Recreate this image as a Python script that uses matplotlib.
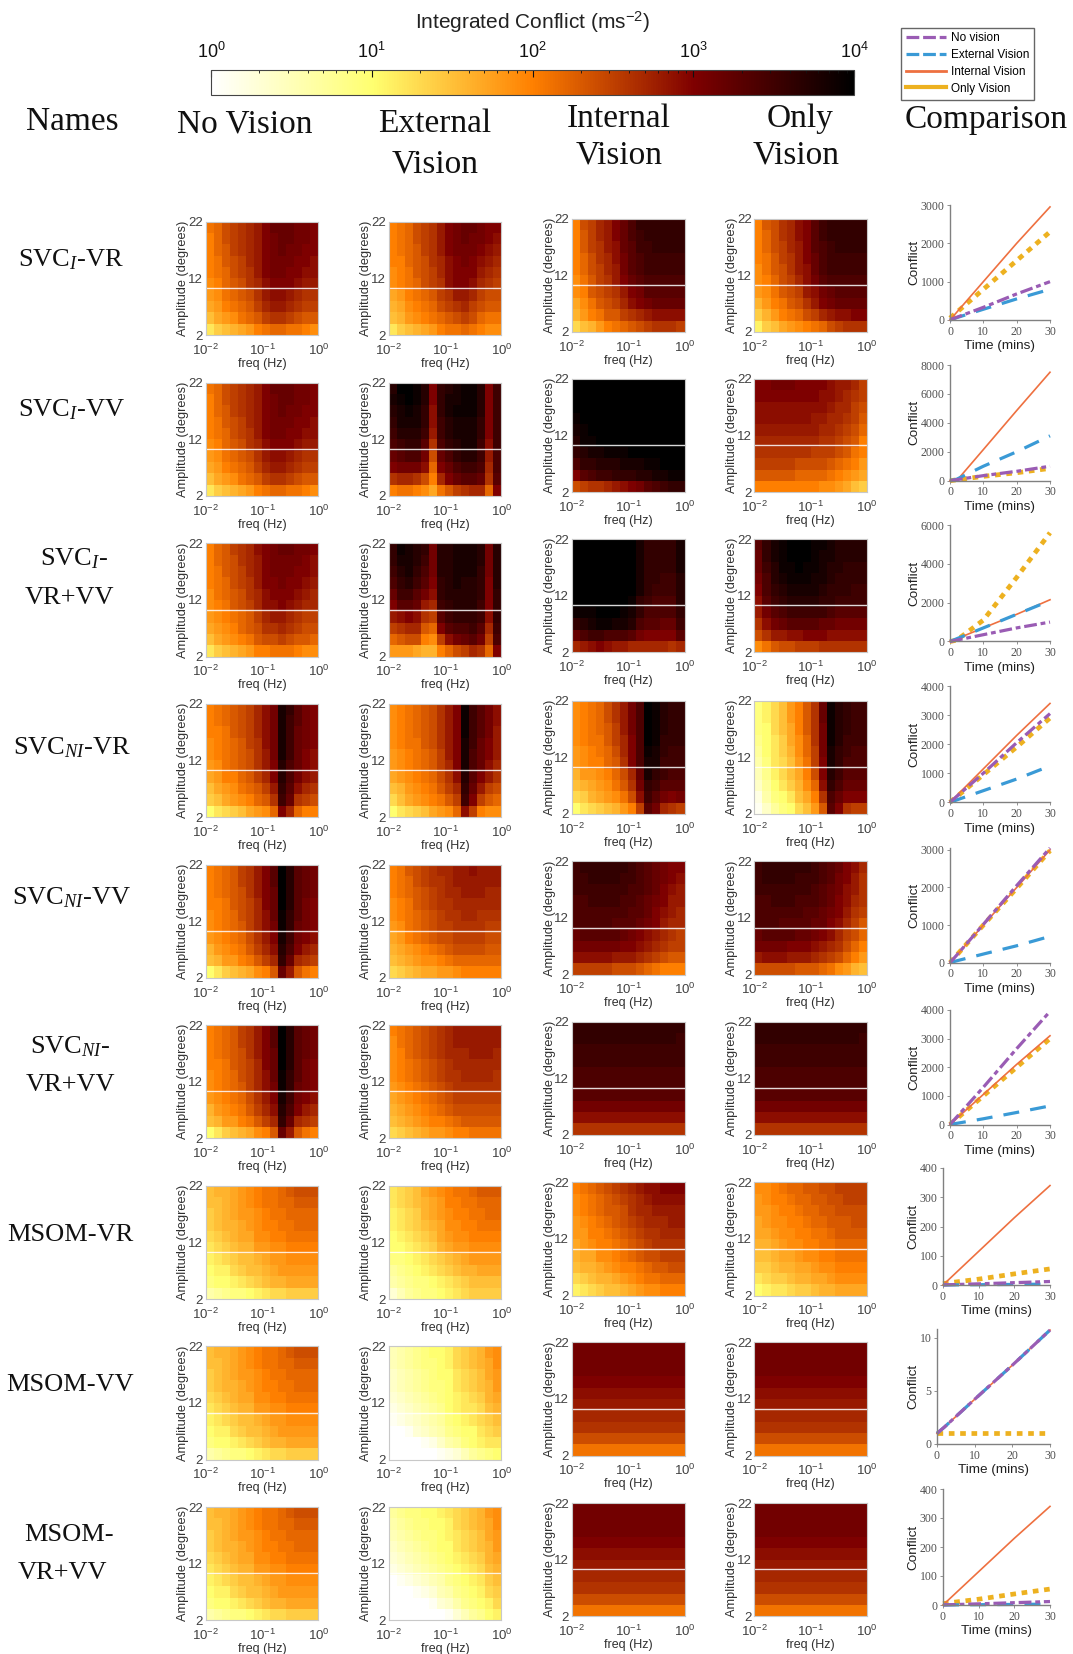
"""Integrated conflict heatmaps for 9 models x 4 vision conditions, with comparison curves."""
import numpy as np
import matplotlib
matplotlib.use("Agg")
import matplotlib.pyplot as plt
from matplotlib.colors import LinearSegmentedColormap, LogNorm
from matplotlib.cm import ScalarMappable
from matplotlib.lines import Line2D

W, H = 1073, 1654

plt.rcParams.update({
    "font.family": ["Liberation Sans", "DejaVu Sans"],
    "mathtext.fontset": "custom",
    "mathtext.rm": "Liberation Serif",
    "mathtext.it": "Liberation Serif:italic",
    "mathtext.bf": "Liberation Serif:bold",
    "axes.unicode_minus": False,
})

# heatmap cells: 10*log10(conflict), top row is 22 degrees, left column is 0.01 Hz
S1_VR_NV = [
    [21,22,24,25,26,27,28,30,32,32,32,31,31,30],
    [20,22,24,25,26,27,28,30,31,32,32,31,31,30],
    [20,22,23,25,26,27,28,30,31,32,31,31,30,30],
    [20,21,23,24,25,27,28,30,31,31,31,30,30,29],
    [20,21,22,24,25,26,28,30,31,31,30,30,29,29],
    [19,20,22,23,24,26,27,29,30,30,30,29,28,28],
    [18,19,21,22,23,24,26,28,29,29,28,27,26,26],
    [17,18,20,21,22,23,25,27,28,28,27,26,25,25],
    [15,17,18,19,21,22,23,25,26,26,25,24,23,23],
    [12,14,15,16,17,18,20,21,22,22,21,21,20,19]]
S1_VR_EV = [
    [20,21,22,24,25,26,28,30,31,32,32,31,30,30],
    [20,21,22,24,25,26,28,30,31,32,31,31,30,29],
    [20,21,22,23,25,26,28,30,31,31,31,30,29,28],
    [20,20,22,23,24,26,27,29,30,31,30,29,28,27],
    [19,20,21,23,24,25,27,29,30,30,30,28,27,26],
    [19,20,21,22,24,25,26,29,30,30,29,27,26,25],
    [17,18,20,21,22,23,25,26,28,28,27,25,24,24],
    [16,17,19,20,21,22,24,25,26,27,25,24,23,23],
    [15,16,18,19,20,21,22,23,24,25,24,22,21,21],
    [12,14,15,16,17,18,20,21,21,22,21,20,19,19]]
S1_VR_IV = [
    [20,24,25,27,28,30,32,34,36,36,36,36,36,36],
    [20,23,25,27,28,30,32,34,35,36,36,36,36,36],
    [20,23,25,26,28,29,32,33,35,35,36,36,36,36],
    [20,22,24,26,27,29,31,33,34,35,35,35,35,35],
    [20,22,24,25,27,28,31,33,34,35,35,35,35,35],
    [19,21,23,25,26,28,30,32,33,34,34,34,34,34],
    [19,20,23,24,25,26,28,30,31,33,33,33,33,33],
    [17,19,21,23,24,25,27,29,30,31,32,32,32,32],
    [16,18,20,21,23,23,25,26,27,28,29,29,29,29],
    [13,15,16,18,20,21,22,23,24,25,26,26,26,25]]
S1_VR_OV = [
    [20,23,24,26,27,29,30,33,35,36,36,36,36,36],
    [20,22,24,26,27,29,30,33,35,36,36,36,36,36],
    [20,22,24,25,27,28,30,33,34,35,36,36,36,36],
    [20,21,23,25,26,28,30,32,34,35,35,35,35,35],
    [19,21,23,24,26,28,29,32,34,35,35,35,35,35],
    [19,20,22,24,25,27,29,31,33,34,34,34,34,34],
    [18,19,21,23,24,25,28,29,31,32,33,33,33,33],
    [16,18,20,21,23,24,26,28,30,31,32,32,32,32],
    [14,16,18,20,21,22,24,25,27,28,29,29,30,30],
    [11,14,15,17,18,19,20,21,22,24,25,26,26,26]]
S1_VV_EV = [
    [37,40,40,39,37,30,36,37,38,39,39,37,30,35],
    [38,39,40,39,37,30,36,38,38,39,39,37,30,35],
    [37,38,39,38,36,29,36,38,39,39,39,37,30,35],
    [36,38,38,38,36,29,35,37,38,38,38,36,30,35],
    [35,37,37,37,35,28,35,37,38,38,38,36,30,35],
    [34,35,36,36,33,26,34,36,37,38,38,35,29,35],
    [32,33,34,34,31,24,32,34,36,37,37,35,28,34],
    [30,31,31,31,29,22,30,32,34,35,35,34,27,34],
    [26,27,27,26,24,20,27,30,32,33,33,32,26,33],
    [20,21,21,20,19,17,21,23,25,26,27,27,22,30]]
S1_VV_IV = [
    [40,40,40,40,40,40,40,40,40,40,40,40,40,40],
    [40,40,40,40,40,40,40,40,40,40,40,40,40,40],
    [40,40,40,40,40,40,40,40,40,40,40,40,40,40],
    [39,40,40,40,40,40,40,40,40,40,40,40,40,40],
    [38,39,40,40,40,40,40,40,40,40,40,40,40,40],
    [37,39,39,40,40,40,40,40,40,40,40,40,40,40],
    [36,37,38,38,39,39,39,40,40,40,40,40,40,40],
    [34,36,36,37,37,37,38,38,38,39,39,40,40,40],
    [30,33,34,35,35,36,36,36,37,37,38,38,39,39],
    [24,25,26,26,27,28,29,30,31,33,34,35,36,36]]
S1_VV_OV = [
    [30,30,31,31,31,30,30,30,30,29,28,28,27,25],
    [30,30,30,30,30,30,30,30,29,29,28,27,26,25],
    [29,29,29,29,29,29,29,29,29,28,27,27,25,24],
    [29,29,29,29,29,29,29,28,28,27,27,26,25,23],
    [28,28,28,28,28,28,28,28,27,27,26,25,24,22],
    [27,27,27,27,27,27,27,27,26,26,25,24,23,20],
    [26,26,26,26,26,26,26,25,25,25,24,23,21,20],
    [25,25,25,25,25,24,24,24,24,23,22,21,20,18],
    [23,23,23,23,23,22,22,22,22,21,20,19,18,17],
    [20,20,20,20,20,20,20,20,19,19,18,17,15,14]]
S1_VB_NV = [
    [20,22,23,25,26,27,29,30,31,32,32,31,31,30],
    [20,22,23,24,26,27,28,30,31,31,31,31,30,29],
    [20,21,23,24,25,27,28,30,31,31,31,30,30,29],
    [20,21,22,24,25,26,28,30,30,31,30,30,29,28],
    [19,21,22,23,24,26,27,29,30,30,30,29,28,27],
    [19,20,21,23,24,25,27,29,29,30,29,28,27,27],
    [18,19,20,21,22,23,25,27,28,28,27,26,25,25],
    [17,18,19,20,22,23,24,26,26,27,26,25,24,24],
    [15,17,18,19,20,21,23,24,24,25,24,23,23,22],
    [12,14,15,16,17,18,20,20,21,21,21,20,19,19]]
S1_VB_EV = [
    [36,39,38,37,36,31,37,37,38,38,38,37,31,37],
    [36,38,38,37,35,31,37,37,38,38,38,37,31,37],
    [35,37,38,36,34,31,37,37,38,38,38,36,31,37],
    [34,36,37,35,33,30,36,37,38,37,37,36,30,37],
    [32,35,35,33,31,29,36,37,37,37,37,36,30,36],
    [30,33,33,32,28,27,35,36,37,37,37,35,30,36],
    [28,29,30,29,26,25,33,35,36,36,36,35,29,36],
    [25,26,27,27,23,22,30,33,34,34,35,33,27,35],
    [22,23,24,24,20,19,25,29,31,32,33,31,25,34],
    [18,18,18,17,16,16,20,22,24,25,27,26,22,30]]
S1_VB_IV = [
    [40,40,40,40,40,40,40,40,38,36,36,36,36,38],
    [40,40,40,40,40,40,40,40,38,36,36,36,36,38],
    [40,40,40,40,40,40,40,40,38,36,36,36,36,38],
    [40,40,40,40,40,40,40,40,38,36,36,35,35,37],
    [40,40,40,40,40,40,40,40,38,36,35,35,35,37],
    [40,40,40,40,40,40,40,39,36,35,34,34,34,37],
    [39,39,39,40,40,40,39,38,36,34,34,34,34,36],
    [36,37,38,39,39,38,38,37,34,33,33,32,32,35],
    [32,34,35,35,34,34,34,33,31,30,30,30,30,33],
    [27,28,29,30,29,28,28,27,27,27,27,27,26,27]]
S1_VB_OV = [
    [33,36,38,39,40,40,40,39,39,38,37,37,37,37],
    [32,36,38,39,40,40,40,39,38,38,37,37,37,37],
    [32,35,37,39,39,40,39,39,38,37,37,36,36,36],
    [31,34,37,38,39,39,39,38,38,37,36,36,36,36],
    [30,34,36,37,38,38,38,38,37,36,36,36,35,35],
    [29,33,35,36,37,37,37,37,36,36,35,35,35,35],
    [28,31,33,34,35,35,35,35,35,34,33,33,33,33],
    [26,29,31,32,33,33,33,33,32,32,31,31,31,31],
    [24,26,28,28,29,29,30,30,30,29,29,29,29,29],
    [19,21,23,24,24,25,25,25,26,26,26,26,26,26]]
S2_VR_NV = [
    [20,21,22,23,24,25,27,29,31,38,36,33,31,30],
    [20,21,22,23,24,25,27,29,31,38,35,33,31,30],
    [20,20,21,23,24,25,27,29,31,38,35,32,31,30],
    [19,20,21,22,23,25,26,29,31,38,35,32,31,30],
    [19,20,21,22,23,24,26,28,31,38,35,32,30,29],
    [18,19,21,22,23,24,26,28,30,37,34,32,30,29],
    [17,18,20,20,22,23,25,27,30,37,34,31,29,28],
    [15,17,18,19,21,22,23,25,28,36,33,29,27,26],
    [14,15,17,18,19,20,22,23,26,35,32,26,25,24],
    [10,12,13,14,15,17,18,19,22,30,27,22,20,20]]
S2_VR_EV = [
    [19,20,21,22,23,24,26,28,30,39,35,33,31,29],
    [19,20,21,22,23,24,26,28,30,39,35,33,31,29],
    [19,20,21,22,23,24,26,28,30,39,35,33,31,28],
    [19,20,21,21,23,24,26,28,30,38,35,32,30,28],
    [18,19,20,21,22,23,25,28,30,38,34,32,30,28],
    [18,19,20,21,22,23,25,27,30,38,34,32,29,27],
    [17,18,19,20,21,22,24,26,29,37,33,30,28,26],
    [15,16,18,19,20,21,23,25,27,36,32,28,25,24],
    [13,15,17,18,19,20,21,23,25,35,30,25,23,22],
    [10,12,13,14,15,17,18,19,22,29,25,20,19,19]]
S2_VR_IV = [
    [19,20,21,22,24,26,28,31,34,40,39,37,36,36],
    [19,20,21,22,24,26,28,31,34,40,39,37,36,36],
    [19,20,21,22,23,25,28,31,34,40,39,37,36,36],
    [19,20,21,21,23,25,27,30,34,40,39,36,36,36],
    [18,19,20,21,22,24,27,30,34,39,38,36,35,35],
    [18,19,20,20,22,23,26,30,34,38,38,35,35,35],
    [16,18,18,19,20,22,24,27,32,38,36,35,34,34],
    [15,16,17,18,19,21,23,26,31,36,35,33,33,33],
    [13,14,16,17,18,19,21,24,29,35,33,31,30,31],
    [10,12,13,14,15,16,18,20,25,33,31,27,26,25]]
S2_VR_OV = [
    [9,11,13,15,18,20,23,26,32,39,37,36,35,35],
    [9,11,13,15,18,20,23,26,32,39,37,36,35,35],
    [9,10,13,15,17,20,23,26,31,39,37,36,35,35],
    [8,10,12,14,17,19,22,26,31,39,37,35,35,35],
    [7,10,12,14,16,19,22,25,31,38,36,35,34,34],
    [6,9,12,13,15,18,21,25,30,38,36,34,34,34],
    [5,8,11,13,15,17,20,24,30,37,35,33,33,33],
    [4,7,10,12,14,16,19,22,29,36,34,32,32,32],
    [2,6,9,10,12,15,17,20,26,34,32,30,30,30],
    [1,4,7,9,10,13,15,18,23,33,30,26,25,25]]
S2_VV_NV = [
    [20,21,22,23,25,26,28,30,33,40,37,33,32,31],
    [20,21,22,23,25,26,28,30,33,40,37,33,32,31],
    [20,21,22,23,24,26,28,30,32,40,37,33,32,31],
    [20,20,21,23,24,25,27,30,32,40,37,33,31,30],
    [19,20,21,22,24,25,27,29,32,39,36,33,31,30],
    [19,20,21,22,23,25,27,29,31,39,36,32,31,30],
    [18,19,20,21,22,24,26,28,30,38,35,31,30,29],
    [16,18,19,20,21,23,25,27,29,37,34,30,28,27],
    [15,16,18,18,20,21,23,25,27,36,32,27,26,25],
    [10,12,14,15,16,17,19,20,23,32,28,23,21,20]]
S2_VV_EV = [
    [20,21,23,24,25,26,27,27,28,28,29,28,28,28],
    [20,21,22,24,25,26,26,27,28,28,28,28,28,28],
    [20,21,22,23,24,25,26,27,27,28,28,28,27,27],
    [19,20,21,23,24,25,26,26,27,27,27,27,27,27],
    [19,20,21,22,23,24,25,26,26,27,27,26,26,26],
    [18,19,21,22,23,24,25,25,26,26,26,26,25,25],
    [17,18,20,21,22,23,24,24,25,25,25,25,24,24],
    [16,17,18,19,20,21,22,23,24,24,24,24,23,23],
    [15,16,17,18,19,19,20,21,22,22,22,22,22,22],
    [13,14,15,16,17,17,18,18,19,20,20,20,20,20]]
S2_VV_IV = [
    [35,36,36,36,36,36,36,35,34,33,32,31,30,30],
    [35,35,36,36,36,36,35,35,34,33,32,31,30,29],
    [35,35,35,35,35,35,35,34,34,33,32,30,29,28],
    [34,34,35,35,35,35,34,34,33,32,31,30,28,28],
    [34,34,34,34,34,34,34,33,33,32,30,29,28,27],
    [34,34,34,34,34,33,33,33,32,31,30,28,27,27],
    [32,33,33,33,33,33,32,31,30,29,28,27,26,25],
    [31,31,31,31,31,31,30,30,29,28,27,26,25,25],
    [29,29,29,29,29,28,28,28,27,26,25,24,23,23],
    [25,25,25,25,25,24,24,24,23,22,21,20,20,20]]
S2_VV_OV = [
    [35,36,36,36,36,36,36,35,34,33,32,30,29,27],
    [35,36,36,36,36,35,35,35,34,33,31,30,28,26],
    [35,35,35,35,35,35,35,34,33,32,31,29,28,26],
    [34,34,35,35,35,34,34,34,33,32,30,29,27,26],
    [34,34,34,34,34,34,33,33,32,31,30,28,26,25],
    [34,34,34,33,33,33,33,32,32,30,29,27,25,23],
    [32,33,33,33,33,32,32,31,30,29,27,25,24,22],
    [31,31,31,31,30,30,30,29,28,27,26,24,22,20],
    [28,29,29,29,28,28,28,27,26,25,24,22,20,18],
    [24,24,24,24,24,23,23,23,22,21,19,18,16,15]]
S2_VB_EV = [
    [20,21,22,23,24,25,26,27,28,28,28,28,28,28],
    [19,21,22,23,24,25,26,27,28,28,28,28,28,28],
    [19,20,22,23,24,25,26,27,27,27,28,28,28,27],
    [19,20,21,22,23,24,25,26,27,27,27,27,27,27],
    [19,20,21,22,23,24,25,26,26,27,27,27,27,26],
    [18,19,20,21,22,23,24,25,26,26,26,26,26,26],
    [17,18,19,20,21,22,23,24,25,25,25,25,25,25],
    [16,17,18,19,20,21,22,23,24,24,24,24,24,24],
    [15,16,17,18,19,20,20,21,22,23,23,23,23,23],
    [13,14,15,16,17,18,18,19,20,20,21,21,21,21]]
S2_VB_IV = [
    [36,36,36,36,36,36,36,36,36,36,36,36,36,36],
    [36,36,36,36,36,36,36,36,36,36,36,36,36,35],
    [35,35,35,35,35,35,35,35,35,35,35,35,35,35],
    [35,35,35,35,35,35,35,35,35,35,35,35,35,35],
    [34,34,34,34,34,34,34,34,34,34,34,34,34,34],
    [34,34,34,34,34,34,34,34,34,34,34,34,34,34],
    [33,33,33,33,33,33,33,33,33,33,33,33,33,33],
    [31,31,31,31,31,31,31,31,31,31,31,31,31,31],
    [29,29,29,29,29,29,29,29,29,29,29,29,29,29],
    [26,26,26,26,26,26,26,26,26,26,26,26,26,26]]
S3_VR_NV = [
    [15,16,16,17,18,19,20,21,21,22,23,24,24,24],
    [15,15,16,17,18,19,20,21,21,22,22,23,23,23],
    [14,15,16,17,18,18,19,20,21,21,22,22,22,22],
    [14,15,16,16,17,18,19,20,20,21,21,22,22,22],
    [13,14,15,16,17,17,19,19,20,20,21,21,21,21],
    [12,13,14,15,16,16,18,18,19,19,20,20,20,20],
    [11,12,13,14,15,15,16,17,18,18,19,19,19,19],
    [10,11,11,13,14,15,15,16,17,18,18,18,18,18],
    [9,10,10,11,12,13,14,15,16,16,17,17,17,17],
    [6,7,8,9,9,10,11,12,13,13,14,14,14,14]]
S3_VR_EV = [
    [12,13,14,15,17,18,19,20,21,21,22,23,23,23],
    [12,13,14,15,16,17,18,20,20,21,21,22,22,22],
    [11,12,13,14,16,17,18,19,20,20,21,21,22,22],
    [11,12,13,14,15,16,17,19,19,20,20,21,21,21],
    [10,11,12,13,14,15,17,18,19,19,20,20,20,20],
    [10,10,11,12,13,14,16,17,18,18,19,19,19,19],
    [9,9,10,11,12,13,14,15,16,17,18,18,18,18],
    [7,8,9,10,11,12,13,14,15,16,16,17,17,17],
    [6,7,8,9,9,10,11,12,13,14,15,15,15,15],
    [3,5,7,8,9,9,10,11,12,13,14,14,14,14]]
S3_VR_IV = [
    [20,21,22,23,24,25,26,27,28,29,29,30,30,30],
    [19,20,21,22,23,24,25,26,27,28,29,29,29,29],
    [19,20,21,22,23,23,24,26,27,27,28,28,28,28],
    [18,19,20,21,22,23,24,25,26,27,27,27,28,28],
    [18,18,20,20,21,22,23,24,25,26,26,27,27,27],
    [17,18,19,20,20,21,22,23,24,25,26,26,26,26],
    [16,17,17,19,19,20,21,22,23,24,24,25,25,25],
    [15,16,16,17,18,19,20,20,21,22,23,23,24,24],
    [13,14,15,16,16,17,18,19,20,21,21,22,22,22],
    [11,12,13,14,15,15,16,17,18,19,19,20,20,20]]
S3_VR_OV = [
    [19,19,20,21,22,22,23,23,24,24,25,25,25,25],
    [18,19,20,20,21,22,22,23,23,24,24,25,25,25],
    [18,18,19,20,20,21,22,22,23,23,24,24,24,24],
    [17,18,19,19,20,20,21,22,22,23,23,23,24,24],
    [17,17,18,19,19,20,20,21,21,22,23,23,23,23],
    [16,16,17,18,19,19,20,20,21,21,22,22,22,22],
    [15,15,16,17,17,18,19,19,20,20,21,21,21,21],
    [14,14,15,16,16,17,17,18,19,19,20,20,20,20],
    [12,13,14,14,15,16,16,17,17,18,19,19,19,19],
    [10,11,12,12,13,14,14,15,16,16,17,17,17,17]]
S3_VV_EV = [
    [5,6,7,8,9,10,10,11,13,14,15,16,18,19],
    [5,6,7,8,9,9,10,11,13,14,15,16,17,19],
    [4,5,6,7,8,9,10,10,12,13,14,15,17,18],
    [4,5,6,7,8,9,9,10,12,13,14,15,16,18],
    [3,4,5,6,7,8,9,10,11,12,13,14,16,17],
    [2,3,4,5,6,7,8,10,11,12,12,13,15,16],
    [1,2,3,4,5,6,7,9,10,11,12,13,14,15],
    [0,0,1,3,4,5,6,8,9,10,10,12,13,14],
    [0,0,0,0,1,2,4,6,7,9,10,11,12,12],
    [0,0,0,0,0,0,1,2,3,5,7,8,9,10]]
S3_VV_IV = [
    [31,31,31,31,31,31,31,31,31,31,31,31,31,31],
    [31,31,31,31,31,31,31,31,31,31,31,31,31,31],
    [31,31,31,31,31,31,31,31,31,31,31,31,31,31],
    [30,30,30,30,30,30,30,30,30,30,30,30,30,30],
    [29,29,29,29,29,29,29,29,29,29,29,29,29,29],
    [28,28,28,28,28,28,28,28,28,28,28,28,28,28],
    [27,27,27,27,27,27,27,27,27,27,27,27,27,27],
    [26,26,26,26,26,26,26,26,26,26,26,26,26,26],
    [24,24,24,24,24,24,24,24,24,24,24,24,24,24],
    [21,21,21,21,21,21,21,21,21,21,21,21,21,21]]
S3_VB_EV = [
    [7,8,9,9,10,10,11,12,13,14,15,16,18,19],
    [6,7,8,9,9,10,10,11,13,14,15,16,17,19],
    [5,6,7,8,9,9,10,11,12,13,14,15,17,18],
    [4,5,6,7,8,9,10,10,12,13,14,15,16,18],
    [3,4,5,6,7,8,9,10,11,12,13,14,16,17],
    [2,3,4,5,6,7,8,9,10,11,12,13,15,16],
    [0,1,2,3,4,5,6,8,9,10,11,12,14,15],
    [0,0,0,1,2,3,5,6,8,9,10,11,13,14],
    [0,0,0,0,0,1,3,4,6,8,9,10,11,13],
    [0,0,0,0,0,0,0,1,3,5,7,8,10,11]]

ROW_NV = [S1_VR_NV, S1_VR_NV, S1_VB_NV, S2_VR_NV, S2_VV_NV, S2_VV_NV, S3_VR_NV, S3_VR_NV, S3_VR_NV]
ROW_EV = [S1_VR_EV, S1_VV_EV, S1_VB_EV, S2_VR_EV, S2_VV_EV, S2_VB_EV, S3_VR_EV, S3_VV_EV, S3_VB_EV]
ROW_IV = [S1_VR_IV, S1_VV_IV, S1_VB_IV, S2_VR_IV, S2_VV_IV, S2_VB_IV, S3_VR_IV, S3_VV_IV, S3_VV_IV]
ROW_OV = [S1_VR_OV, S1_VV_OV, S1_VB_OV, S2_VR_OV, S2_VV_OV, S2_VB_IV, S3_VR_OV, S3_VV_IV, S3_VV_IV]

# comparison curves, read at these times (mins)
TIME = [0, 2, 10, 20, 30]
CMP_NV = [[0,70,330,680,1000], [0,70,350,650,1000], [0,70,350,700,1000], [0,200,1000,2050,3050],
          [0,200,1020,2050,3050], [0,260,1300,2650,3950], [0,1,4,8,12], [1,1.6,4.2,7.4,10.7], [0,1,4,8,12]]
CMP_EV = [[0,60,280,550,800], [0,100,1000,2000,3100], [0,140,700,1400,2100], [0,80,400,800,1250],
          [0,50,230,450,700], [0,40,200,420,650], [0,0.3,1,2,3], [1,1.6,4.2,7.4,10.7], [0,0.3,1,2,3]]
CMP_IV = [[0,200,1000,2000,2950], [0,0,2150,4850,7500], [0,140,700,1400,2150], [0,230,1150,2300,3400],
          [0,200,1000,2000,3000], [0,210,1050,2100,3100], [0,23,115,230,340], [1,1.6,4.2,7.4,10.7], [0,23,115,230,340]]
CMP_OV = [[50,200,800,1550,2300], [0,60,300,550,850], [0,70,1100,3300,5600], [0,190,950,1900,2900],
          [0,200,1000,1980,2980], [0,200,1000,2000,3000], [5,8,20,38,55], [1,1,1,1,1], [5,8,20,38,55]]
CMP_YMAX = [3000, 8000, 6000, 4000, 3050, 4000, 400, 10.8, 400]
CMP_YTICKS = [[0,1000,2000,3000], [0,2000,4000,6000,8000], [0,2000,4000,6000], [0,1000,2000,3000,4000],
              [0,1000,2000,3000], [0,1000,2000,3000,4000], [0,100,200,300,400], [0,5,10], [0,100,200,300,400]]
TIME_TICKS = [0, 10, 20, 30]

COLS = ["#9A5CB4", "#3A9AD6", "#EE7040", "#EDB120"]
CMAP = LinearSegmentedColormap.from_list("conflict", [
    (0.0, "#ffffff"), (0.25, "#ffff70"), (0.5, "#ff8000"), (0.75, "#800000"), (1.0, "#000000")])
NORM = LogNorm(1, 1e4)

# pixel layout
COL_X = [205.7, 388.7, 571.8, 754.4]
ROW_Y_A = [221.7, 382.7, 543.3, 703.7, 864.5, 1025, 1185.7, 1346.3, 1507]   # columns 0,1
ROW_Y_B = [218.7, 379, 539, 700.7, 861.3, 1021.5, 1182.3, 1342.3, 1503]     # columns 2,3
CELL_W, CELL_H = 112.7, 113.3
CMP_LEFT = [950, 950, 950, 950, 950, 950, 943, 937, 943]
CMP_TOP = [205, 365, 525, 686, 848, 1010, 1168, 1329, 1489]
CMP_BOT = [320, 480.7, 641.5, 802.3, 962.7, 1124.5, 1285, 1444, 1605]


def px_axes(fig, x0, y0, x1, y1):
    return fig.add_axes([x0 / W, 1 - y1 / H, (x1 - x0) / W, (y1 - y0) / H])


def heat(fig, x, y, vals):
    ax = px_axes(fig, x, y, x + CELL_W, y + CELL_H)
    z = 10 ** (np.array(vals, dtype=float)[::-1] / 10)
    xe = np.logspace(-2, 0, z.shape[1] + 1)
    ye = np.linspace(2, 22, z.shape[0] + 1)
    ax.pcolormesh(xe, ye, z, cmap=CMAP, norm=NORM, linewidth=0, rasterized=True)
    ax.set_xscale("log")
    ax.set_xlim(1e-2, 1)
    ax.set_ylim(2, 22)
    ax.axhline(10.3, color="white", lw=1.0, alpha=0.85)
    ax.set_xticks([1e-2, 1e-1, 1])
    ax.minorticks_off()
    ax.set_yticks([2, 12, 22])
    ax.tick_params(axis="x", length=0, labelsize=9.5, colors="#404040", pad=5.5)
    ax.tick_params(axis="y", length=0, labelsize=9.5, colors="#404040", pad=2)
    ax.set_xlabel("freq (Hz)", fontsize=9, color="#303030", labelpad=0)
    ax.set_ylabel("Amplitude (degrees)", fontsize=9.2, color="#303030", labelpad=-1)
    for s in ax.spines.values():
        s.set_color("#c8c8c8")
        s.set_linewidth(0.8)


def compare(fig, i):
    ax = px_axes(fig, CMP_LEFT[i], CMP_TOP[i], 1050, CMP_BOT[i])
    ax.plot(TIME, CMP_OV[i], color=COLS[3], lw=3.4, dashes=(1.2, 1.2))
    ax.plot(TIME, CMP_IV[i], color=COLS[2], lw=1.2)
    ax.plot(TIME, CMP_EV[i], color=COLS[1], lw=2.3, dashes=(5, 3.5))
    ax.plot(TIME, CMP_NV[i], color=COLS[0], lw=2.3, dashes=(4, 1.2, 1.5, 1.2))
    ax.set_xlim(0, 30)
    ax.set_ylim(0, CMP_YMAX[i])
    ax.set_xticks(TIME_TICKS)
    ax.set_yticks(CMP_YTICKS[i])
    ax.tick_params(length=2, width=0.6, color="#808080", labelsize=8.5, labelcolor="#505050", pad=2)
    for lab in ax.get_xticklabels() + ax.get_yticklabels():
        lab.set_family("Liberation Serif")
    ax.set_xlabel("Time (mins)", fontsize=9.7, color="#202020", labelpad=2)
    ax.set_ylabel("Conflict", fontsize=9.7, color="#202020", labelpad=0)
    ax.spines[["top", "right"]].set_visible(False)
    ax.spines[["left", "bottom"]].set_color("#808080")
    ax.spines[["left", "bottom"]].set_linewidth(1.0)
    for line in ax.get_lines():
        line.set_clip_on(False)


def label(fig, x, y, s, size=24):
    fig.text(x / W, 1 - y / H, s, ha="center", va="center", fontsize=size,
             family="Liberation Serif", color="#111111")


def main():
    fig = plt.figure(figsize=(W / 100, H / 100), dpi=100, facecolor="white")

    # colour bar
    cax = px_axes(fig, 211, 70, 854, 94.5)
    cb = fig.colorbar(ScalarMappable(norm=NORM, cmap=CMAP), cax=cax, orientation="horizontal",
                      ticklocation="top")
    cb.ax.tick_params(which="major", direction="in", length=5, width=0.8, labelsize=13, pad=6, colors="#111111")
    cb.ax.tick_params(which="minor", direction="in", length=2.5, width=0.6, colors="#111111")
    cb.outline.set_edgecolor("#444444")
    fig.text(533 / W, 1 - 22 / H, r"Integrated Conflict (ms$\mathdefault{^{-2}}$)", ha="center",
             va="center", fontsize=15, color="#222222")

    # legend
    handles = [
        Line2D([], [], color=COLS[0], lw=2.3, dashes=(4, 1.2)),
        Line2D([], [], color=COLS[1], lw=2.3, dashes=(4, 1.2)),
        Line2D([], [], color=COLS[2], lw=2.0),
        Line2D([], [], color=COLS[3], lw=3.0),
    ]
    fig.legend(handles, ["No vision", "External Vision", "Internal Vision", "Only Vision"],
               loc="upper left", bbox_to_anchor=(901 / W, 1 - 27.5 / H), fontsize=8.5,
               frameon=True, fancybox=False, edgecolor="#666666", framealpha=1,
               borderpad=0.42, labelspacing=0.4, handlelength=3.4, handletextpad=0.4,
               borderaxespad=0)

    # column headers
    label(fig, 72, 122, "Names")
    label(fig, 245, 124, "No Vision")
    label(fig, 435, 124, "External")
    label(fig, 435, 164, "Vision")
    label(fig, 619, 119, "Internal")
    label(fig, 619, 155, "Vision")
    label(fig, 800, 119, "Only")
    label(fig, 796, 155, "Vision")
    label(fig, 986, 120, "Comparison")

    # row names
    label(fig, 71, 260, "SVC$_{I}$-VR", 19)
    label(fig, 71, 410, "SVC$_{I}$-VV", 19)
    label(fig, 74, 559, "SVC$_{I}$-", 19)
    label(fig, 69, 598, "VR+VV", 19)
    label(fig, 72, 748, "SVC$_{NI}$-VR", 19)
    label(fig, 72, 898, "SVC$_{NI}$-VV", 19)
    label(fig, 70, 1047, "SVC$_{NI}$-", 19)
    label(fig, 70, 1085, "VR+VV", 19)
    label(fig, 70, 1235, "MSOM-VR", 19)
    label(fig, 70, 1385, "MSOM-VV", 19)
    label(fig, 69, 1535, "MSOM-", 19)
    label(fig, 62, 1573, "VR+VV", 19)

    for i in range(9):
        heat(fig, COL_X[0], ROW_Y_A[i], ROW_NV[i])
        heat(fig, COL_X[1], ROW_Y_A[i], ROW_EV[i])
        heat(fig, COL_X[2], ROW_Y_B[i], ROW_IV[i])
        heat(fig, COL_X[3], ROW_Y_B[i], ROW_OV[i])
        compare(fig, i)

    fig.savefig("out.png", dpi=100, facecolor="white")
    plt.close(fig)


if __name__ == "__main__":
    main()
